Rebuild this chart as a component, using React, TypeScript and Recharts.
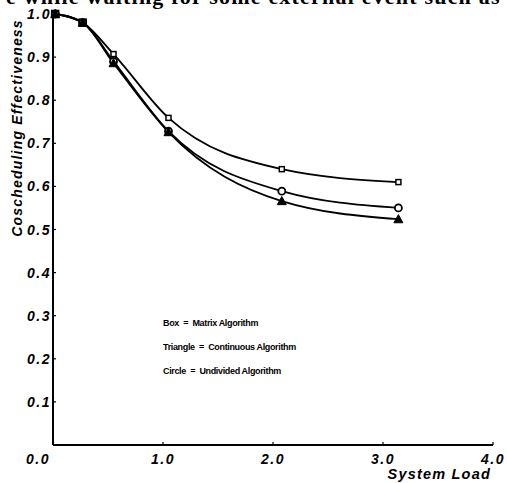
import React from 'react';
import { LineChart, Line, XAxis, YAxis } from 'recharts';

const loads = [0.02, 0.27, 0.55, 1.05, 2.08, 3.14];
const matrixValues = [1.0, 0.98, 0.907, 0.759, 0.64, 0.61];
const undividedValues = [1.0, 0.98, 0.89, 0.728, 0.589, 0.55];
const continuousValues = [1.0, 0.98, 0.886, 0.726, 0.566, 0.524];
const xTicks = [0, 1, 2, 3, 4];
const yTicks = [0.1, 0.2, 0.3, 0.4, 0.5, 0.6, 0.7, 0.8, 0.9, 1.0];
const legendLines = [
  'Box  =  Matrix Algorithm',
  'Triangle  =  Continuous Algorithm',
  'Circle  =  Undivided Algorithm',
];

const data = loads.map((x, i) => ({
  x,
  matrix: matrixValues[i],
  undivided: undividedValues[i],
  continuous: continuousValues[i],
}));

const tickFont = {
  fontFamily: '"Liberation Sans", Arial, sans-serif',
  fontWeight: 700,
  fontStyle: 'italic' as const,
  fontSize: 14,
  letterSpacing: 1.5,
};

const XTick = (props: any) => {
  const { x, y, payload } = props;
  const v = payload.value as number;
  const shift = v === 0 ? -15 : 0;
  return (
    <g>
      {v !== 0 && <line x1={x} x2={x} y1={y} y2={y - 3} stroke="#000" strokeWidth={1.2} />}
      <text x={x + shift} y={y + 19} textAnchor="middle" fill="#000" style={tickFont}>
        {v.toFixed(1)}
      </text>
    </g>
  );
};

const YTick = (props: any) => {
  const { x, y, payload } = props;
  const v = payload.value as number;
  return (
    <g>
      <line x1={x} x2={x + 3} y1={y} y2={y} stroke="#000" strokeWidth={1.2} />
      <text x={x - 2} y={y + 5} textAnchor="end" fill="#000" style={tickFont}>
        {v.toFixed(1)}
      </text>
    </g>
  );
};

const SquareDot = (props: any) => {
  const { cx, cy, index } = props;
  if (cx == null || cy == null) return null;
  const s = index < 2 ? 7 : 5;
  return (
    <rect key={`s${index}`} x={cx - s / 2} y={cy - s / 2} width={s} height={s}
      fill={index < 2 ? '#000' : '#fff'} stroke="#000" strokeWidth={1.5} />
  );
};

const CircleDot = (props: any) => {
  const { cx, cy, index } = props;
  if (cx == null || cy == null) return null;
  return <circle key={`c${index}`} cx={cx} cy={cy} r={3.5} fill="#fff" stroke="#000" strokeWidth={1.8} />;
};

const TriDot = (props: any) => {
  const { cx, cy, index } = props;
  if (cx == null || cy == null) return null;
  const s = 4.5;
  return (
    <polygon key={`t${index}`}
      points={`${cx},${cy - s} ${cx - s},${cy + s * 0.8} ${cx + s},${cy + s * 0.8}`}
      fill="#000" stroke="#000" strokeWidth={1} />
  );
};

export default function App() {
  return (
    <div style={{ position: 'absolute', left: 0, top: 0, width: 507, height: 483, overflow: 'hidden', background: '#fff' }}>
      <div
        style={{
          position: 'absolute',
          left: 6,
          top: -16,
          fontFamily: '"Liberation Serif", "Times New Roman", serif',
          fontWeight: 700,
          fontSize: 22,
          whiteSpace: 'nowrap',
          letterSpacing: 1.2,
          color: '#000',
        }}
      >
        e while waiting for some external event such as
      </div>
      <LineChart width={507} height={483} data={data} margin={{ top: 14, right: 14, bottom: 0, left: 0 }}>
        <XAxis
          dataKey="x"
          type="number"
          domain={[0, 4]}
          ticks={xTicks}
          tick={<XTick />}
          tickLine={false}
          tickSize={0}
          tickMargin={0}
          height={38}
          axisLine={{ stroke: '#000', strokeWidth: 2 }}
          interval={0}
        />
        <YAxis
          type="number"
          domain={[0, 1]}
          ticks={yTicks}
          tick={<YTick />}
          tickLine={false}
          tickSize={0}
          tickMargin={0}
          width={53}
          axisLine={{ stroke: '#000', strokeWidth: 2 }}
          interval={0}
        />
        <Line type="monotone" dataKey="matrix" stroke="#000" strokeWidth={1.8} dot={<SquareDot />} isAnimationActive={false} />
        <Line type="monotone" dataKey="undivided" stroke="#000" strokeWidth={1.8} dot={<CircleDot />} isAnimationActive={false} />
        <Line type="monotone" dataKey="continuous" stroke="#000" strokeWidth={1.8} dot={<TriDot />} isAnimationActive={false} />
      </LineChart>
      <svg width={507} height={483} style={{ position: 'absolute', left: 0, top: 0, pointerEvents: 'none' }}>
        <text
          transform="translate(22,128) rotate(-90)"
          textAnchor="middle"
          fill="#000"
          style={{ ...tickFont, fontSize: 14, letterSpacing: 1.2 }}
        >
          Coscheduling Effectiveness
        </text>
        <text x={491} y={479} textAnchor="end" fill="#000" style={{ ...tickFont, fontSize: 14.5, letterSpacing: 1.2 }}>
          System Load
        </text>
        {legendLines.map((t, i) => (
          <text
            key={t}
            x={163}
            y={326 + i * 24}
            fill="#000"
            style={{
              fontFamily: '"Liberation Sans", Arial, sans-serif',
              fontWeight: 700,
              fontSize: 9,
              whiteSpace: 'pre',
              letterSpacing: -0.35,
            }}
          >
            {t}
          </text>
        ))}
      </svg>
    </div>
  );
}
